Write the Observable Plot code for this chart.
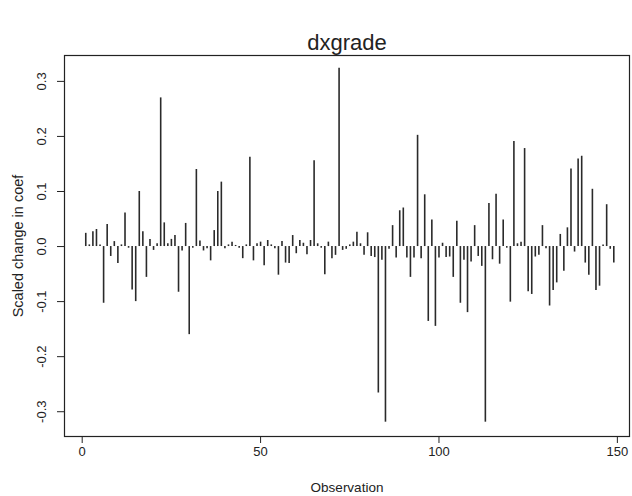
<!DOCTYPE html>
<html><head><meta charset="utf-8">
<script src="https://cdn.jsdelivr.net/npm/d3@7"></script>
<script src="https://cdn.jsdelivr.net/npm/@observablehq/plot@0.6"></script>
<style>body{margin:0;background:#fff;}</style>
</head><body><div id="chart"></div>
<script>
const title = "dxgrade";
const xLabel = "Observation";
const yLabel = "Scaled change in coef";
const xTicks = [0, 50, 100, 150];
const yTicks = [-0.3, -0.2, -0.1, 0, 0.1, 0.2, 0.3];
const values = [
  0.024, 0.003, 0.027, 0.031, 0.003, -0.103, 0.04, -0.018, 0.009, -0.031,
  0.003, 0.061, -0.003, -0.079, -0.10, 0.10, 0.027, -0.056, 0.013, -0.007,
  0.005, 0.27, 0.043, 0.005, 0.013, 0.02, -0.083, -0.008, 0.042, -0.16,
  -0.003, 0.14, 0.01, -0.008, -0.004, -0.026, 0.029, 0.10, 0.117, -0.004,
  0.003, 0.008, 0.002, -0.003, -0.022, 0.003, 0.162, -0.026, 0.005, 0.008,
  -0.035, 0.011, 0.003, -0.004, -0.052, 0.009, -0.03, -0.031, 0.02, -0.013,
  0.011, 0.006, -0.015, 0.011, 0.156, 0.005, -0.003, -0.051, 0.008, -0.022,
  -0.016, 0.324, -0.007, -0.005, 0.003, 0.008, 0.026, 0.005, -0.016, 0.025,
  -0.018, -0.02, -0.266, -0.025, -0.319, -0.005, 0.038, -0.021, 0.065, 0.07,
  -0.021, -0.056, -0.021, 0.202, -0.022, 0.094, -0.136, 0.048, -0.145, -0.021,
  0.006, -0.02, -0.019, -0.056, 0.046, -0.103, -0.025, -0.12, -0.028, 0.038,
  -0.018, -0.036, -0.319, 0.078, -0.024, 0.095, -0.032, 0.048, -0.003, -0.101,
  0.191, 0.005, 0.008, 0.178, -0.082, -0.087, -0.019, -0.016, 0.038, -0.004,
  -0.108, -0.08, -0.066, 0.022, -0.045, 0.034, 0.141, -0.01, 0.159, 0.164,
  -0.03, -0.052, 0.104, -0.08, -0.072, 0.003, 0.076, -0.005, -0.03
];
const data = values.map((v, i) => ({obs: i + 1, value: v}));

const chart = Plot.plot({
  width: 632, height: 496,
  marginTop: 55, marginBottom: 60, marginLeft: 64, marginRight: 3,
  style: {fontFamily: "'Liberation Sans', Arial, sans-serif", fontSize: "13px", color: "#222", background: "#fff"},
  x: {domain: [-4.96, 153.4]},
  y: {domain: [-0.345, 0.347]},
  marks: [
    Plot.ruleX(data, {x: "obs", y1: 0, y2: "value", stroke: "#2a2a2a", strokeWidth: 1.6}),
    Plot.frame({stroke: "#222", strokeWidth: 1.2}),
    Plot.axisX({ticks: xTicks, tickSize: 7, tickPadding: 3, label: null, tickFormat: d => String(d), fontSize: 13}),
    Plot.axisY({ticks: yTicks, tickSize: 7, tickPadding: 12, tickRotate: -90, label: null, tickFormat: d => d.toFixed(1), fontSize: 13}),
    Plot.text([xLabel], {frameAnchor: "bottom", lineAnchor: "middle", dy: 51, text: d => d, fontSize: 13.5}),
    Plot.text([yLabel], {frameAnchor: "left", textAnchor: "middle", lineAnchor: "middle", dx: -46, rotate: -90, text: d => d, fontSize: 14.5}),
    Plot.text([title], {frameAnchor: "top", lineAnchor: "middle", dy: -13, text: d => d, fontSize: 22})
  ]
});
document.getElementById("chart").append(chart);
</script>
</body></html>
